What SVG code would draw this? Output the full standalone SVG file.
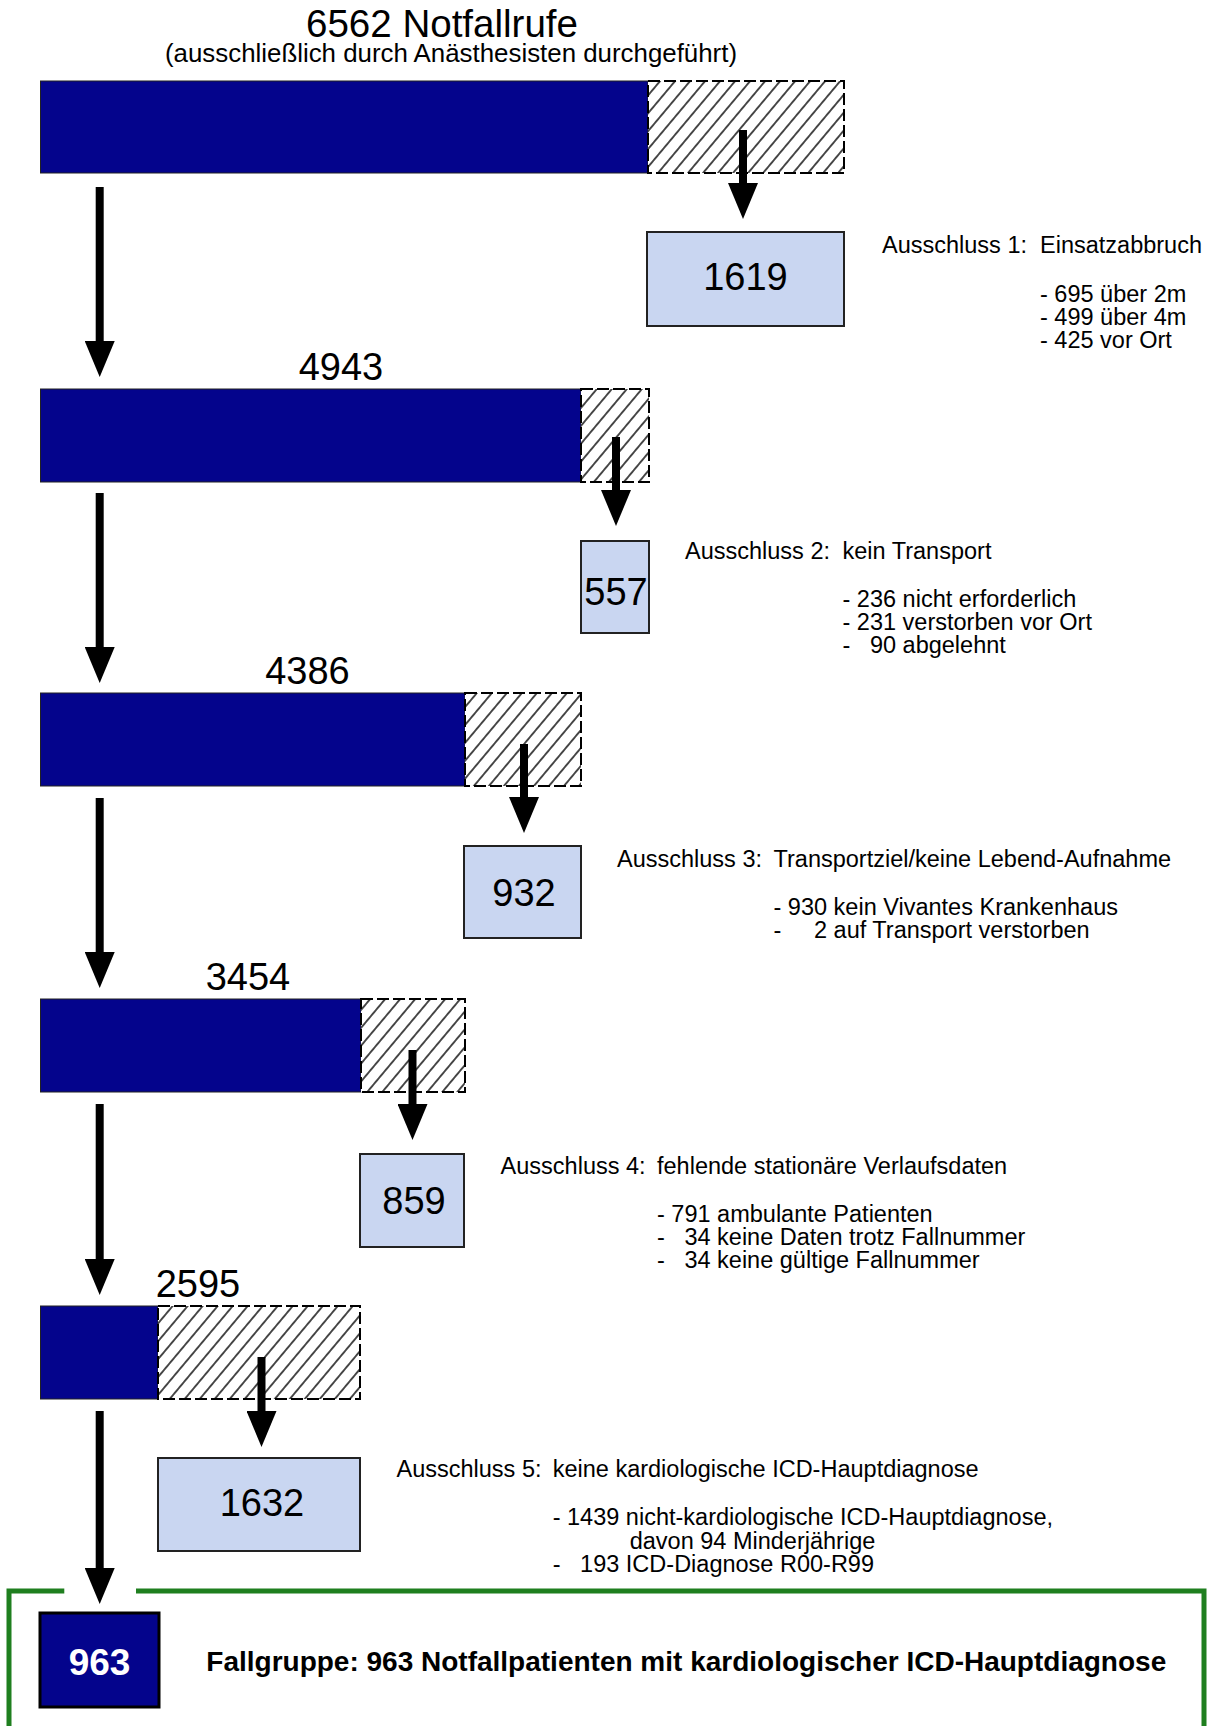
<svg xmlns="http://www.w3.org/2000/svg" width="1207" height="1726" viewBox="0 0 1207 1726">
<style>
text{font-family:"Liberation Sans",Arial,sans-serif;fill:#000}
.blue{fill:#04048c;stroke:#222;stroke-width:1}
.hatch{fill:url(#hatch);stroke:#000;stroke-width:2;stroke-dasharray:12 4}
.box{fill:#c9d6f1;stroke:#222;stroke-width:2}
.num{font-size:38px;text-anchor:middle}
.lbl{font-size:38px;text-anchor:middle}
.ex{font-size:23.5px}
.arr{stroke:#000;stroke-width:8;fill:none;marker-end:url(#head)}
</style>
<defs>
<pattern id="hatch" patternUnits="userSpaceOnUse" width="11.5" height="11.5" patternTransform="rotate(40)">
<rect width="11.5" height="11.5" fill="#fff"/>
<line x1="5.75" y1="-1" x2="5.75" y2="12.5" stroke="#000" stroke-width="1.4"/>
</pattern>
<marker id="head" markerUnits="userSpaceOnUse" viewBox="0 0 36 30" markerWidth="36" markerHeight="30" refX="0" refY="15" orient="auto">
<path d="M0,0 L36,15 L0,30 z" fill="#000"/>
</marker>
</defs>
<rect width="1207" height="1726" fill="#fff"/>

<g id="title">
<text x="442" y="37" font-size="38.5" text-anchor="middle" textLength="272" lengthAdjust="spacingAndGlyphs">6562 Notfallrufe</text>
<text x="451" y="62" font-size="25.8" text-anchor="middle" textLength="572" lengthAdjust="spacingAndGlyphs">(ausschließlich durch Anästhesisten durchgeführt)</text>
</g>

<g id="bar1">
<rect class="blue" x="40.5" y="81" width="607.5" height="92"/>
<rect class="hatch" x="648" y="81" width="196" height="92"/>
</g>
<g id="bar2">
<text class="lbl" x="341" y="380">4943</text>
<rect class="blue" x="40.5" y="389" width="540.5" height="93"/>
<rect class="hatch" x="581" y="389" width="68" height="93"/>
</g>
<g id="bar3">
<text class="lbl" x="307.5" y="684">4386</text>
<rect class="blue" x="40.5" y="693" width="424.5" height="93"/>
<rect class="hatch" x="465" y="693" width="116" height="93"/>
</g>
<g id="bar4">
<text class="lbl" x="248" y="990">3454</text>
<rect class="blue" x="40.5" y="999" width="320.5" height="93"/>
<rect class="hatch" x="361" y="999" width="104" height="93"/>
</g>
<g id="bar5">
<text class="lbl" x="198" y="1297">2595</text>
<rect class="blue" x="40.5" y="1306" width="117.5" height="93"/>
<rect class="hatch" x="158" y="1306" width="202" height="93"/>
</g>

<g id="box1">
<rect class="box" x="647" y="232" width="197" height="94"/>
<text class="num" x="745.5" y="290">1619</text>
</g>
<g id="box2">
<rect class="box" x="581" y="541" width="68" height="92"/>
<text class="num" x="616" y="605">557</text>
</g>
<g id="box3">
<rect class="box" x="464" y="846" width="117" height="92"/>
<text class="num" x="524" y="906">932</text>
</g>
<g id="box4">
<rect class="box" x="360" y="1154" width="104" height="93"/>
<text class="num" x="414" y="1214">859</text>
</g>
<g id="box5">
<rect class="box" x="158" y="1458" width="202" height="93"/>
<text class="num" x="262" y="1516">1632</text>
</g>

<g id="excl1">
<text class="ex" x="882" y="253">Ausschluss 1:</text>
<text class="ex" x="1040" y="253">Einsatzabbruch</text>
<text class="ex" x="1040" y="302" xml:space="preserve">- 695 über 2m</text>
<text class="ex" x="1040" y="325" xml:space="preserve">- 499 über 4m</text>
<text class="ex" x="1040" y="348" xml:space="preserve">- 425 vor Ort</text>
</g>
<g id="excl2">
<text class="ex" x="685" y="559">Ausschluss 2:</text>
<text class="ex" x="842.5" y="559">kein Transport</text>
<text class="ex" x="842.5" y="607" xml:space="preserve">- 236 nicht erforderlich</text>
<text class="ex" x="842.5" y="630" xml:space="preserve">- 231 verstorben vor Ort</text>
<text class="ex" x="842.5" y="653" xml:space="preserve">-   90 abgelehnt</text>
</g>
<g id="excl3">
<text class="ex" x="617" y="867">Ausschluss 3:</text>
<text class="ex" x="773.5" y="867">Transportziel/keine Lebend-Aufnahme</text>
<text class="ex" x="773.5" y="915" xml:space="preserve">- 930 kein Vivantes Krankenhaus</text>
<text class="ex" x="773.5" y="938" xml:space="preserve">-     2 auf Transport verstorben</text>
</g>
<g id="excl4">
<text class="ex" x="500.6" y="1174">Ausschluss 4:</text>
<text class="ex" x="657" y="1174">fehlende stationäre Verlaufsdaten</text>
<text class="ex" x="657" y="1222" xml:space="preserve">- 791 ambulante Patienten</text>
<text class="ex" x="657" y="1245" xml:space="preserve">-   34 keine Daten trotz Fallnummer</text>
<text class="ex" x="657" y="1268" xml:space="preserve">-   34 keine gültige Fallnummer</text>
</g>
<g id="excl5">
<text class="ex" x="396.5" y="1477">Ausschluss 5:</text>
<text class="ex" x="552.7" y="1477">keine kardiologische ICD-Hauptdiagnose</text>
<text class="ex" x="552.7" y="1525" xml:space="preserve">- 1439 nicht-kardiologische ICD-Hauptdiagnose,</text>
<text class="ex" x="629.7" y="1548.5">davon 94 Minderjährige</text>
<text class="ex" x="552.7" y="1572" xml:space="preserve">-   193 ICD-Diagnose R00-R99</text>
</g>

<g id="final">
<path d="M9,1730 V1591 H64.3 M136,1591 H1204 V1730" fill="none" stroke="#1f7f1f" stroke-width="5"/>
<rect x="40" y="1613" width="119" height="94" fill="#04048c" stroke="#000" stroke-width="3"/>
<text x="99.5" y="1675" font-size="37" font-weight="bold" text-anchor="middle" style="fill:#fff">963</text>
<text x="206.3" y="1670.7" font-size="28" font-weight="bold">Fallgruppe: 963 Notfallpatienten mit kardiologischer ICD-Hauptdiagnose</text>
</g>

<g id="connectors">
<line class="arr" x1="99.7" y1="187" x2="99.7" y2="341"/>
<line class="arr" x1="99.7" y1="493" x2="99.7" y2="647"/>
<line class="arr" x1="99.7" y1="798" x2="99.7" y2="952"/>
<line class="arr" x1="99.7" y1="1104" x2="99.7" y2="1259"/>
<line class="arr" x1="99.7" y1="1411" x2="99.7" y2="1568"/>
<line class="arr" x1="743" y1="130" x2="743" y2="183"/>
<line class="arr" x1="616" y1="437" x2="616" y2="490"/>
<line class="arr" x1="524" y1="744" x2="524" y2="797"/>
<line class="arr" x1="412.5" y1="1050" x2="412.5" y2="1104"/>
<line class="arr" x1="261.5" y1="1357" x2="261.5" y2="1411"/>
</g>
</svg>
